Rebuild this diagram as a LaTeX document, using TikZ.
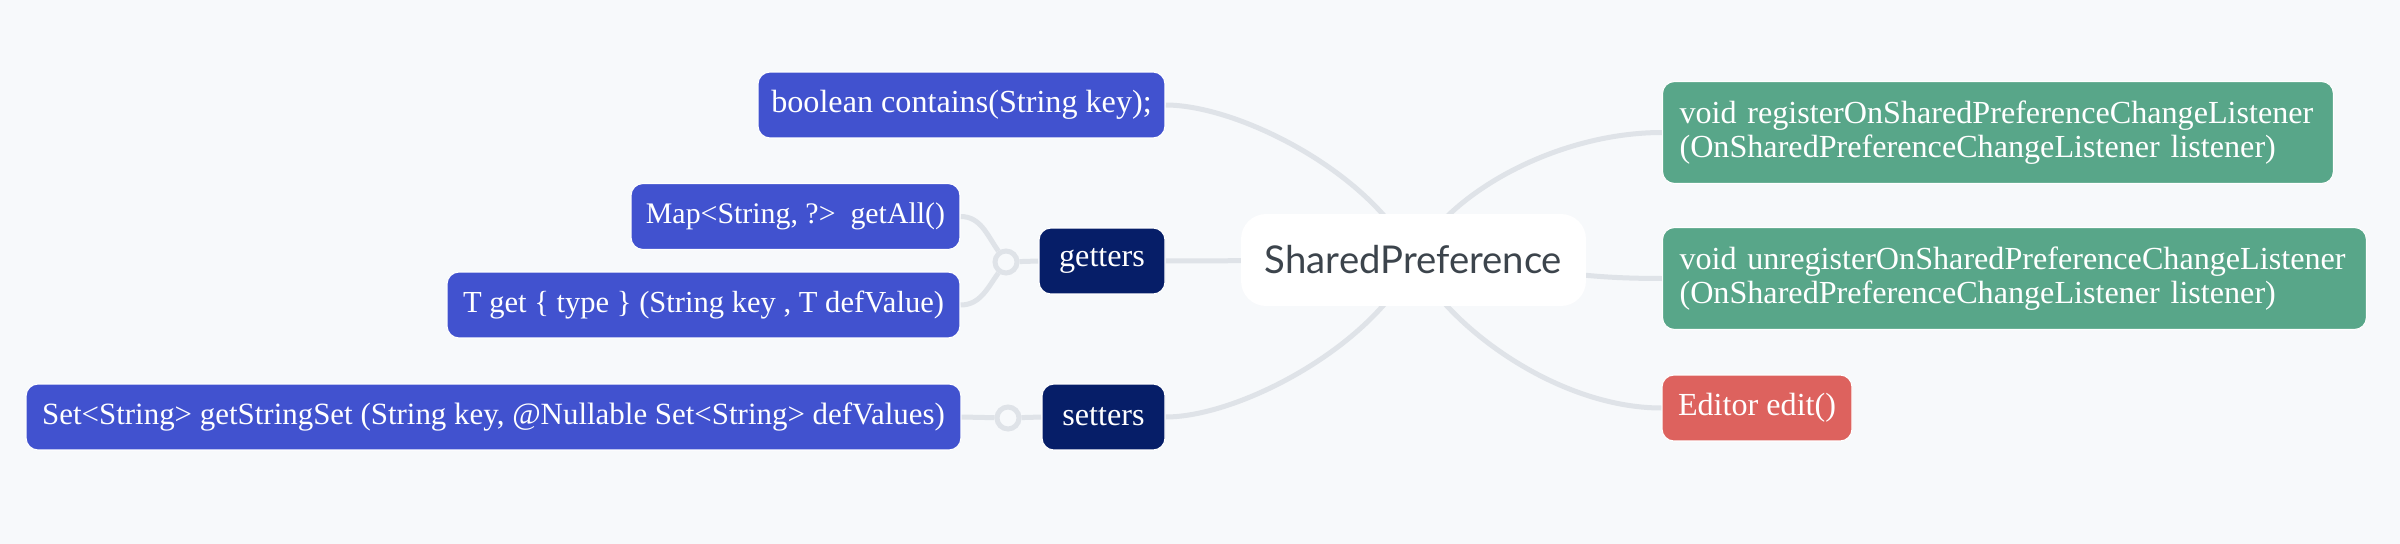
\documentclass[tikz,border=0pt]{standalone}
\usepackage{fontspec}
\setmainfont{Liberation Serif}
\newfontfamily\rootfont{Lato}
\usepackage{tikz}
\usetikzlibrary{positioning,shapes,backgrounds}
\definecolor{fondo}{HTML}{F7F9FB}
\definecolor{linea}{HTML}{DFE3E8}
\definecolor{azul}{HTML}{4152CF}
\definecolor{marino}{HTML}{061E68}
\definecolor{verde}{HTML}{58A689}
\definecolor{rojo}{HTML}{DD625E}
\definecolor{gris}{HTML}{3C444C}

\begin{document}
\begin{tikzpicture}[x=0.02cm, y=-0.02cm, semithick,
        hoja/.style = {rectangle, rounded corners=0.24cm, draw=white, line width=0.6pt, fill=azul, text=white, font=\fontsize{18.3}{19.5}\selectfont, minimum height=1.32cm, inner xsep=0.12cm},
        grupo/.style = {hoja, fill=marino},
        metodo/.style = {hoja, fill=verde, anchor=west, align=left, inner xsep=0.34cm, minimum height=2.04cm},
        raiz/.style = {rectangle, rounded corners=0.5cm, fill=white, text=gris, font=\rootfont\fontsize{21.8}{25}\selectfont, minimum width=6.9cm, minimum height=1.84cm},
        nudo/.style = {draw=linea, circle, line width=0.1cm, fill=fondo, inner sep=0pt, minimum size=0.44cm},
        rama/.style = {draw=linea, line width=0.1cm}]
        \useasboundingbox (0,0) rectangle (2400,544);

        \node[raiz] (1) at (1413.5,260) {SharedPreference};

        \node[hoja, minimum width=8.14cm] (2) at (961.5,105) {boolean contains(String key);};
        \node[grupo, minimum width=2.52cm] (3) at (1102,261) {getters};
        \node[hoja, minimum width=6.58cm, font=\fontsize{17}{19.5}\selectfont] (4) at (795.5,216.5) {Map<String, ?>\ \ getAll()};
        \node[hoja, minimum width=10.26cm, font=\fontsize{17.4}{19.5}\selectfont] (5) at (703.5,305) {T get \{ type \} (String key , T defValue)};
        \node[grupo, minimum width=2.46cm] (6) at (1103.5,417) {setters};
        \node[hoja, minimum width=18.7cm, font=\fontsize{17.6}{19.5}\selectfont] (7) at (493.5,417) {Set<String> getStringSet (String key, @Nullable Set<String> defValues)};

        \node[metodo, text width=12.74cm] (8) at (1662,132.5) {void registerOnSharedPreferenceChangeListener\\(OnSharedPreferenceChangeListener listener)};
        \node[metodo, text width=13.4cm] (9) at (1662,278.5) {void unregisterOnSharedPreferenceChangeListener\\(OnSharedPreferenceChangeListener listener)};
        \node[hoja, fill=rojo, minimum width=3.8cm] (10) at (1757,408) {Editor edit()};

        \node[nudo] (11) at (1006,262) {};
        \node[nudo] (12) at (1008,418) {};

        \begin{scope}[on background layer]
        \fill[fondo] (0,0) rectangle (2400,544);
        \draw[rama] (1.center) .. controls (1375,175) and (1240,105) .. (2.east);
        \draw[rama] (1.center) -- (3.east);
        \draw[rama] (1.center) .. controls (1375,345) and (1240,417) .. (6.east);
        \draw[rama] (1.center) .. controls (1450,190) and (1560,132.5) .. (8.west);
        \draw[rama] (1.center) .. controls (1540,260) and (1540,278.5) .. (9.west);
        \draw[rama] (1.center) .. controls (1450,330) and (1560,408) .. (10.west);

        \draw[rama] (3.west) -- (11);
        \draw[rama] (11.125) to [out=125, in=0] (4.east);
        \draw[rama] (11.235) to [out=235, in=0] (5.east);

        \draw[rama] (6.west) -- (12);
        \draw[rama] (12) -- (7.east);
        \end{scope}
    \end{tikzpicture}
\end{document}
